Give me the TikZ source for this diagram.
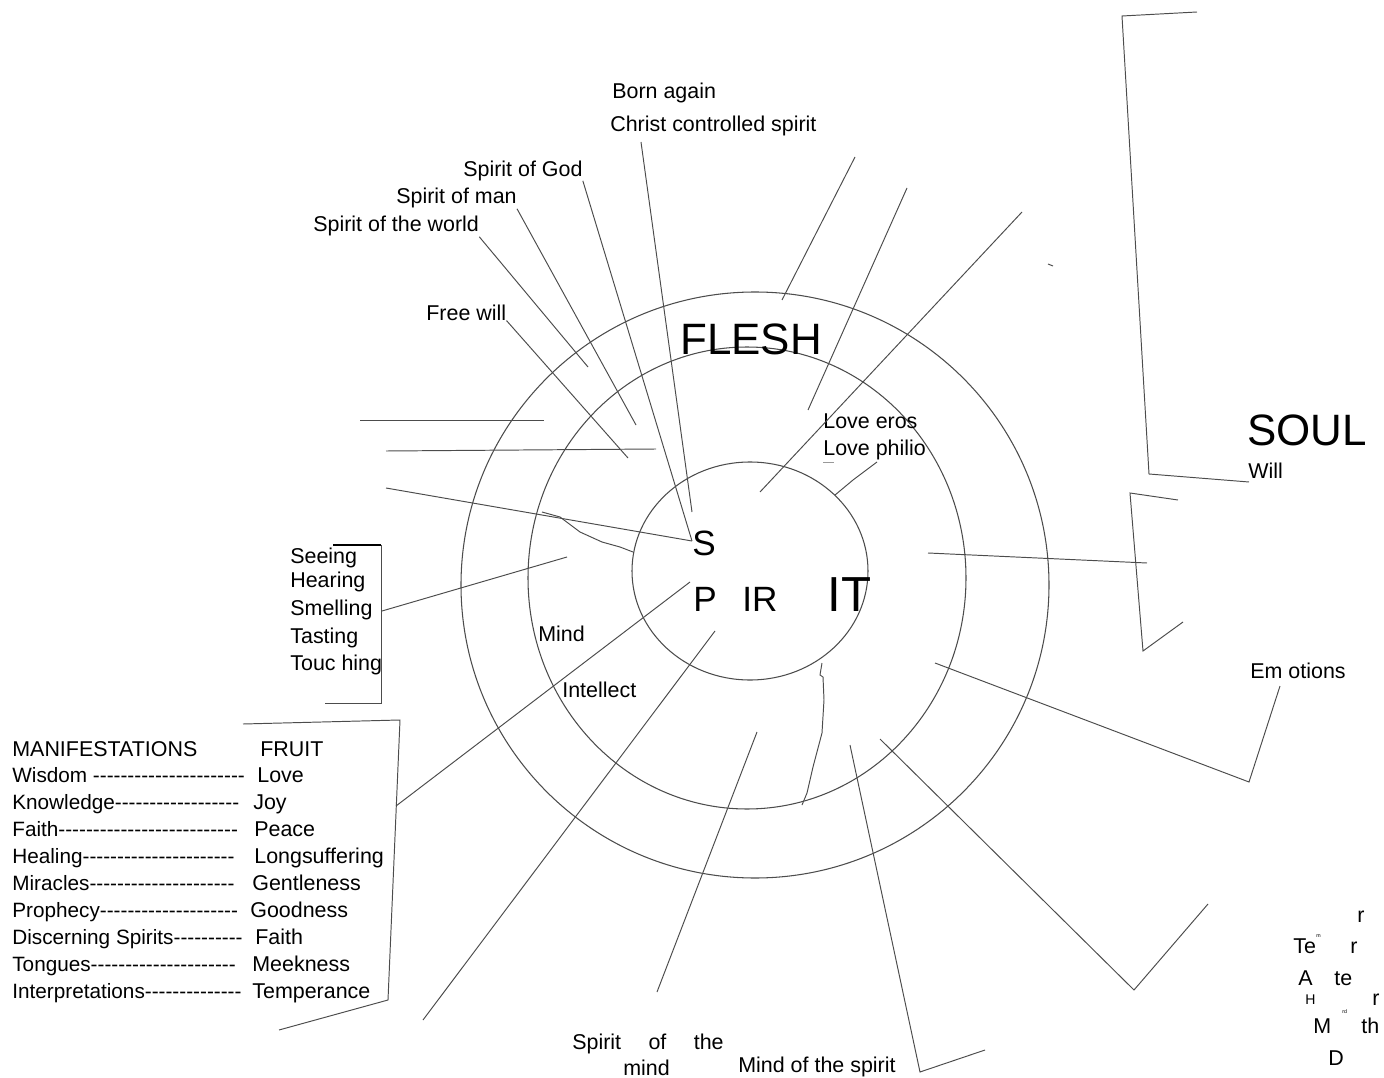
\documentclass[tikz,border=0pt]{standalone}
\usepackage{fontspec}
\setmainfont{Liberation Sans}
\newfontfamily\listfont{Liberation Sans}
\usetikzlibrary{calc}
\tikzset{
    lbl/.style={anchor=base west, inner sep=0pt, font=\fontsize{12.2}{14}\selectfont},
    lst/.style={anchor=base west, inner sep=0pt, font=\listfont\fontsize{11.8}{13}\selectfont},
    big/.style={anchor=base west, inner sep=0pt, font=\fontsize{25}{30}\selectfont},
    mid/.style={anchor=base west, inner sep=0pt, font=\fontsize{20}{24}\selectfont},
    wee/.style={anchor=base west, inner sep=0pt, font=\fontsize{3}{4}\selectfont},
    ln/.style={draw=black!70, line width=0.55pt},
    ring/.style={draw=black!70, line width=0.6pt}
}

\begin{document}
\begin{tikzpicture}[x=0.02cm, y=-0.02cm]
        \useasboundingbox (0,0) rectangle (1384,1078);
        % the three rings
        \coordinate (c0) at (755,585);
        \coordinate (c1) at (747,578);
        \coordinate (c2) at (750,571);
        \draw[ring] (c0) ellipse [x radius=294, y radius=293];
        \draw[ring] (c1) ellipse [x radius=219, y radius=231];
        \draw[ring] (c2) ellipse [x radius=118, y radius=109];

        % labels, top
        \node[lbl] (born) at (612,99) {Born again};
        \node[lbl] (chr) at (610,132) {Christ controlled spirit};
        \node[lbl] (sgod) at (463,176) {Spirit of God};
        \node[lbl] (sman) at (396,204) {Spirit of man};
        \node[lbl] (swld) at (313,232) {Spirit of the world};
        \node[lbl] (fwill) at (426,320) {Free will};
        \node[big] (flesh) at (680,354) {FLESH};
        \node[lbl] (eros) at (823,428) {Love eros};
        \node[lbl] (philio) at (823,455) {Love philio};

        % SPIRIT in the centre
        \node[mid] (s) at (692,555) {S};
        \node[mid] (p) at (693,611) {P};
        \node[mid] (ir) at (742,611) {IR};
        \node[big, font=\fontsize{28}{32}\selectfont] (it) at (827,611) {IT};
        \node[lbl] (mind) at (538,641) {Mind};
        \node[lbl] (intel) at (562,697) {Intellect};

        % right side
        \node[big] (soul) at (1247,445) {SOUL};
        \node[lbl] (will) at (1248,478) {Will};
        \node[lbl] (emo) at (1250,678) {Em otions};

        % senses
        \node[lbl] (see) at (290,563) {Seeing};
        \node[lbl] (hear) at (290,587) {Hearing};
        \node[lbl] (smell) at (290,615) {Smelling};
        \node[lbl] (taste) at (290,643) {Tasting};
        \node[lbl] (touch) at (290,670) {Touc hing};

        % manifestations and fruit
        \node[lbl] (mhead) at (12,756) {MANIFESTATIONS};
        \node[lbl] (fhead) at (260,756) {FRUIT};
        \node[lst] (m1) at (12,782) {Wisdom ----------------------};
        \node[lst] (m2) at (12,809) {Knowledge------------------};
        \node[lst] (m3) at (12,836) {Faith--------------------------};
        \node[lst] (m4) at (12,863) {Healing----------------------};
        \node[lst] (m5) at (12,890) {Miracles---------------------};
        \node[lst] (m6) at (12,917) {Prophecy--------------------};
        \node[lst] (m7) at (12,944) {Discerning Spirits----------};
        \node[lst] (m8) at (12,971) {Tongues---------------------};
        \node[lst] (m9) at (12,998) {Interpretations--------------};
        \node[lbl] (f1) at (257,782) {Love};
        \node[lbl] (f2) at (253,809) {Joy};
        \node[lbl] (f3) at (254,836) {Peace};
        \node[lbl] (f4) at (254,863) {Longsuffering};
        \node[lbl] (f5) at (252,890) {Gentleness};
        \node[lbl] (f6) at (250,917) {Goodness};
        \node[lbl] (f7) at (255,944) {Faith};
        \node[lbl] (f8) at (252,971) {Meekness};
        \node[lbl] (f9) at (252,998) {Temperance};

        % bottom
        \node[lbl] (sotm) at (572,1049) {Spirit \quad of \quad the};
        \node[lbl] (sotm2) at (623,1075) {mind};
        \node[lbl] (mots) at (738,1072) {Mind of the spirit};

        % scattered letters, bottom right
        \node[lbl] (w1) at (1357,922) {r};
        \node[lbl] (w2) at (1293,953) {Te};
        \node[lbl] (w3) at (1350,953) {r};
        \node[lbl] (w4) at (1298,985) {A};
        \node[lbl] (w5) at (1334,985) {te};
        \node[lbl, font=\fontsize{8}{9}\selectfont] (w6) at (1305,1004) {H};
        \node[lbl] (w7) at (1372,1005) {r};
        \node[lbl] (w8) at (1313,1033) {M};
        \node[lbl] (w9) at (1361,1033) {th};
        \node[lbl] (w10) at (1328,1065) {D};
        \node[wee] (w11) at (1316,937) {m};
        \node[wee] (w12) at (1342,1013) {rd};

        % ends of the leader lines
        \coordinate (a1) at (641,142);   \coordinate (b1) at (692,512);
        \coordinate (b2) at (692,541);
        \coordinate (b3) at (636,425);
        \coordinate (b4) at (588,367);
        \coordinate (b5) at (628,458);
        \coordinate (a6) at (360,420);   \coordinate (b6) at (544,420);
        \coordinate (a7) at (386,451);   \coordinate (b7) at (656,449);
        \coordinate (a8) at (386,488);
        \coordinate (a9) at (382,611);   \coordinate (b9) at (567,557);
        \coordinate (a10) at (396,806);  \coordinate (b10) at (690,582);
        \coordinate (a11) at (423,1020); \coordinate (b11) at (715,631);
        \coordinate (a12) at (657,992);  \coordinate (b12) at (757,732);
        \coordinate (a13) at (850,745);  \coordinate (k13) at (920,1072); \coordinate (e13) at (985,1050);
        \coordinate (a14) at (880,739);  \coordinate (k14) at (1134,990); \coordinate (e14) at (1208,904);
        \coordinate (a15) at (935,663);  \coordinate (k15) at (1249,782); \coordinate (e15) at (1280,686);
        \coordinate (a16) at (928,553);  \coordinate (b16) at (1147,563);
        \coordinate (a17) at (782,300);  \coordinate (b17) at (855,157);
        \coordinate (a18) at (808,410);  \coordinate (b18) at (907,188);
        \coordinate (a19) at (760,492);  \coordinate (b19) at (1022,212);

        \draw[ln] (a1) -- (b1);
        \draw[ln] (sgod.south east) -- (b2);
        \draw[ln] (sman.south east) -- (b3);
        \draw[ln] (swld.south east) -- (b4);
        \draw[ln] (fwill.south east) -- (b5);
        \draw[ln] (a6) -- (b6);
        \draw[ln] (a7) -- (b7);
        \draw[ln] (a8) -- (b2);
        \draw[ln] (a9) -- (b9);
        \draw[ln] (a10) -- (b10);
        \draw[ln] (a11) -- (b11);
        \draw[ln] (a12) -- (b12);
        \draw[ln] (a13) -- (k13) -- (e13);
        \draw[ln] (a14) -- (k14) -- (e14);
        \draw[ln] (a15) -- (k15) -- (e15);
        \draw[ln] (a16) -- (b16);
        \draw[ln] (a17) -- (b17);
        \draw[ln] (a18) -- (b18);
        \draw[ln] (a19) -- (b19);
        \draw[ln] (1048,264) -- (1053,266);

        % brackets
        \draw[ln] (1197,12) -- (1122,16) -- (1149,474) -- (1249,482);
        \draw[ln] (1178,500) -- (1130,493) -- (1143,651) -- (1183,622);
        \draw[line width=1.2pt] (333,545) -- (381,545);
        \draw[ln] (381,545) -- (381,703) -- (325,703);
        \draw[ln] (243,724) -- (400,720) -- (388,1000) -- (279,1030);

        % rough cuts across the rings
        \draw[ln] (542,512) -- (560,517) -- (580,532) -- (602,542) -- (620,547) -- (633,552);
        \draw[ln] (835,495) -- (853,480) -- (873,465) -- (877,462);
        \draw[draw=black!40, line width=0.5pt] (823,462) -- (834,462);
        \draw[ln] (822,663) -- (820,675) -- (823,677) -- (824,700) -- (822,733) -- (813,767) -- (807,793) -- (802,805);
    \end{tikzpicture}
\end{document}
